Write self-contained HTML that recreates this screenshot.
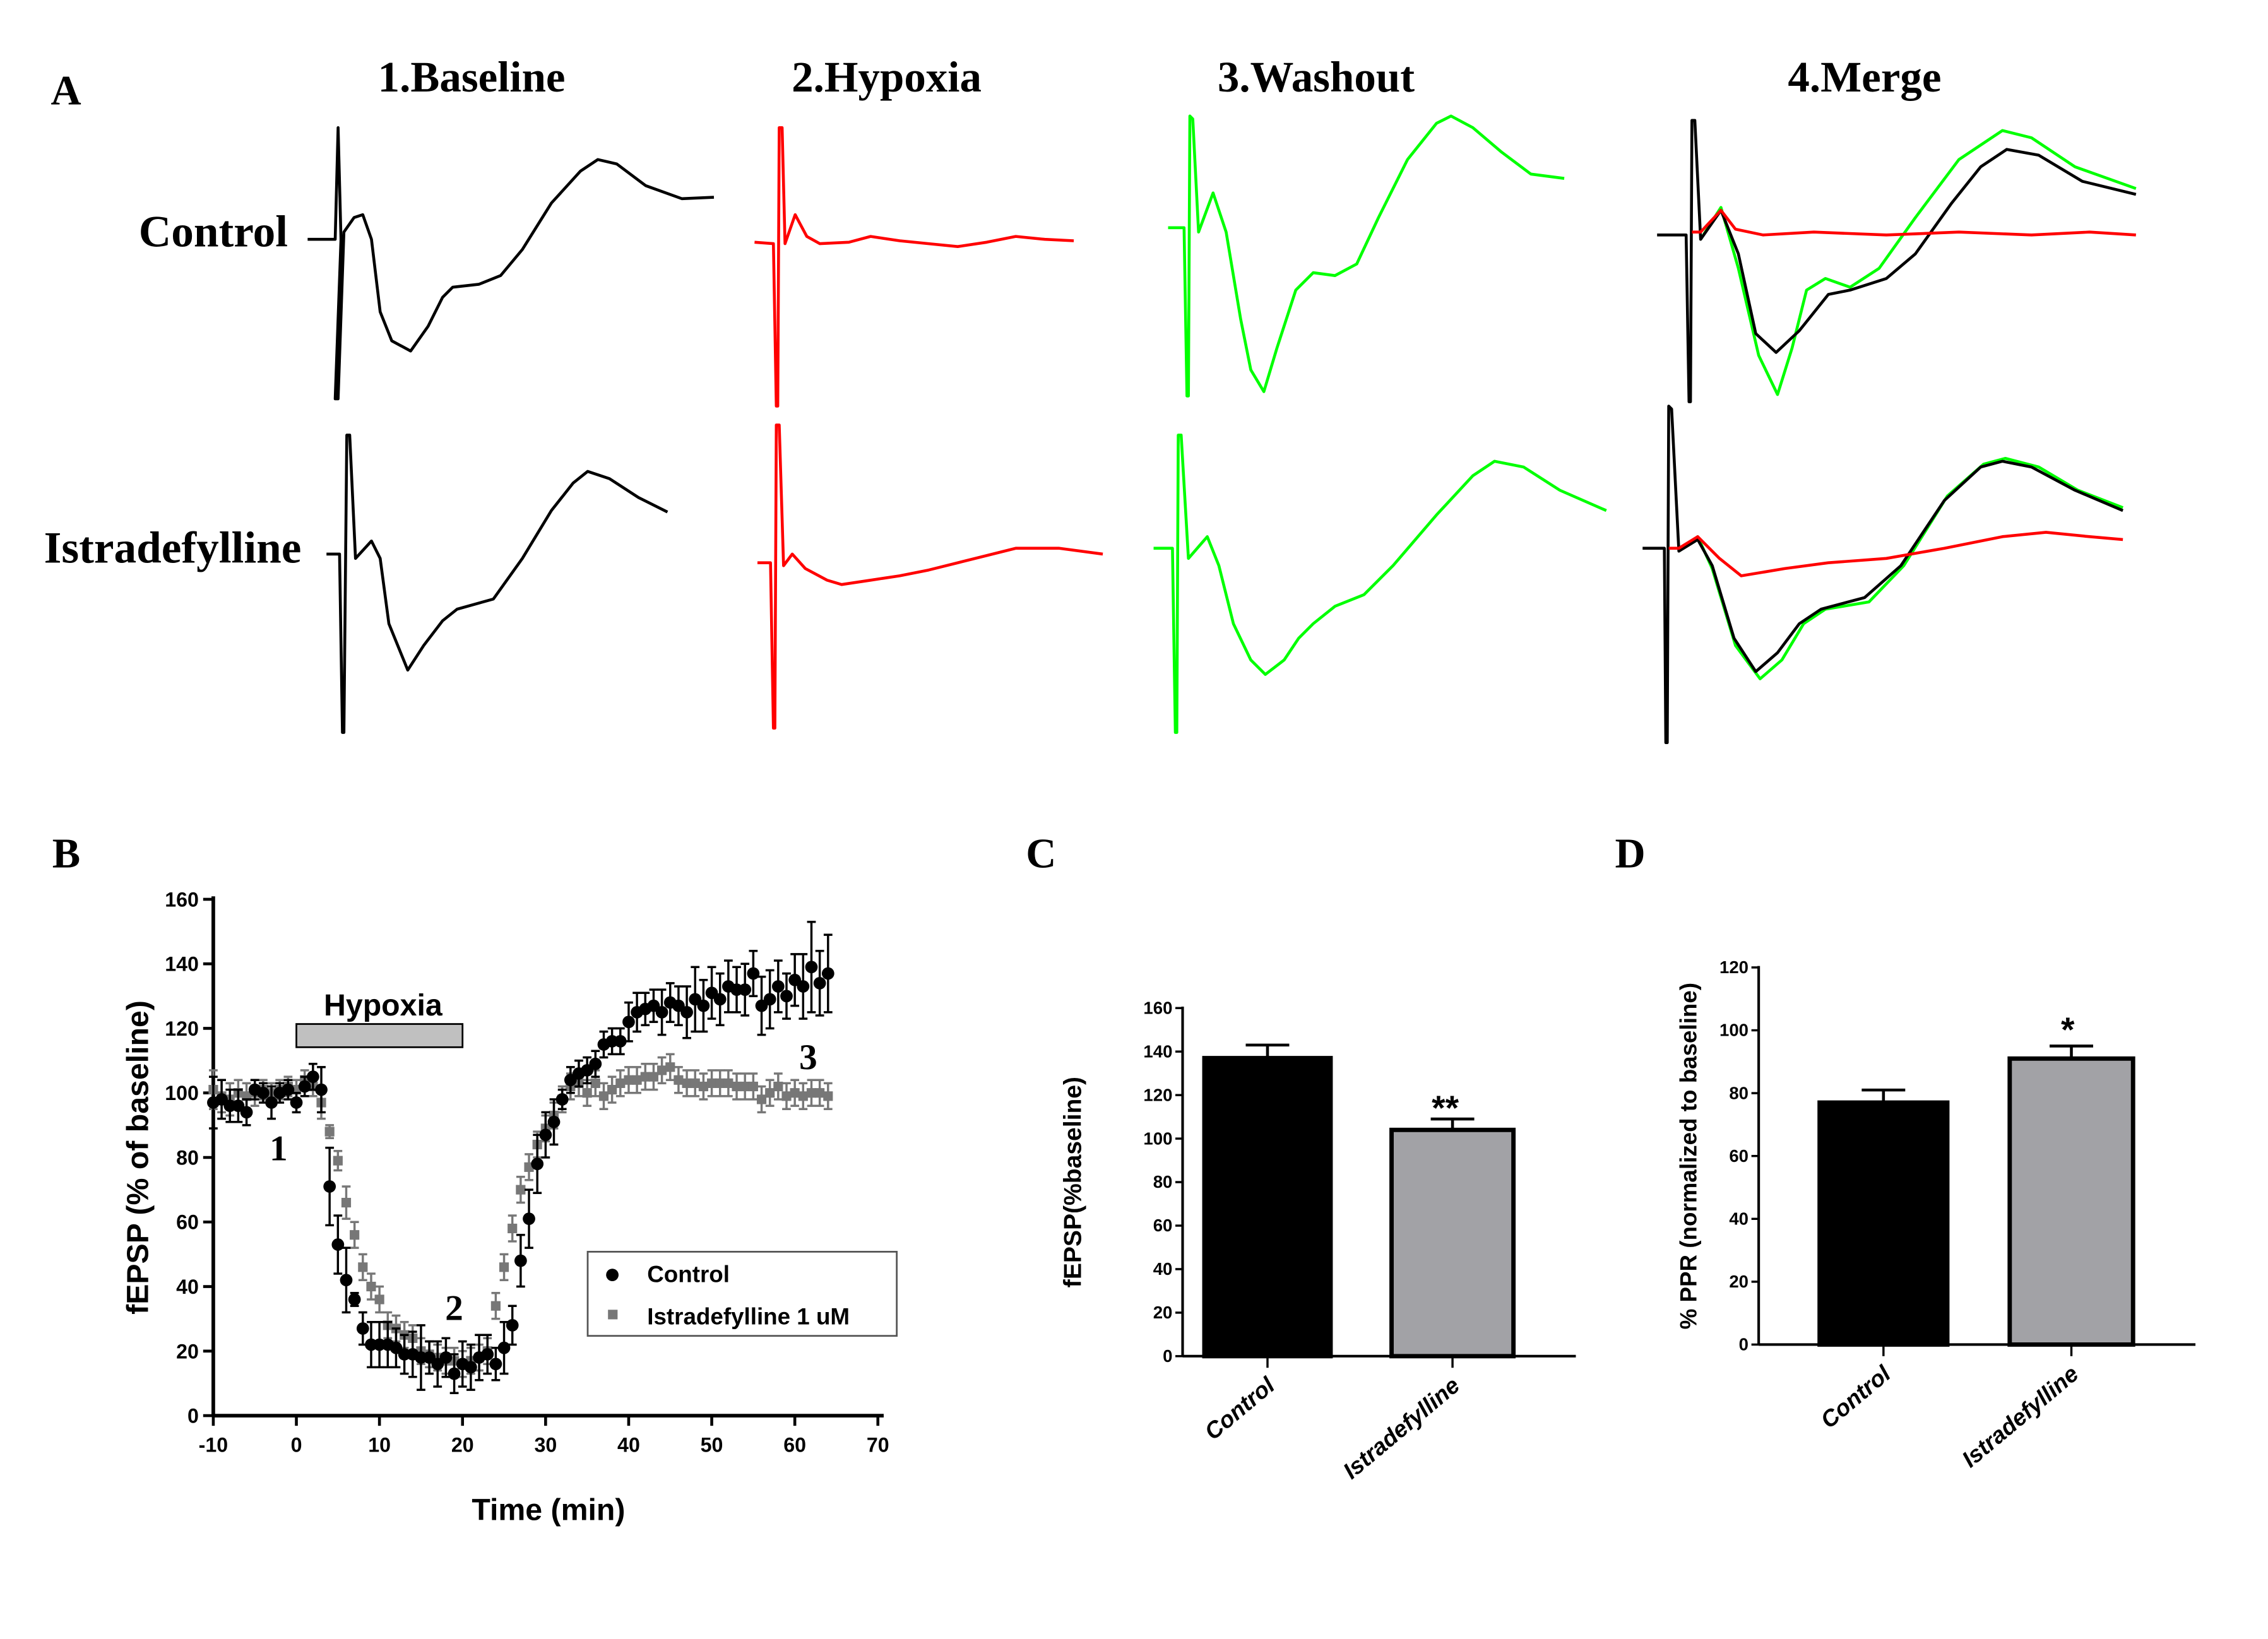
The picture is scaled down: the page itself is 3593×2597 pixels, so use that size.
<!DOCTYPE html>
<html><head><meta charset="utf-8"><style>
html,body{margin:0;padding:0;background:#fff;}
svg{display:block;}
.tk{font-family:"Liberation Sans",sans-serif;font-weight:bold;}
.sf{font-family:"Liberation Serif",serif;font-weight:bold;}
</style></head><body>
<svg id="fig" width="3593" height="2597" viewBox="0 0 1563 1130" preserveAspectRatio="none" xmlns="http://www.w3.org/2000/svg">
<rect width="1563" height="1130" fill="#fff"/>
<g class="sf" font-size="29">
<text x="35" y="72">A</text>
<text x="36" y="598">B</text>
<text x="707" y="598">C</text>
<text x="1113" y="598">D</text>
</g>
<g class="sf" font-size="30" text-anchor="middle">
<text x="325" y="63">1.Baseline</text>
<text x="611" y="63">2.Hypoxia</text>
<text x="907" y="63">3.Washout</text>
<text x="1285" y="63">4.Merge</text>
<text x="147" y="170" font-size="31">Control</text>
<text x="119" y="388" font-size="31">Istradefylline</text>
</g>
<g id="traces"></g>
<g id="panelB"></g>
<g id="panelC"></g>
<g id="panelD"></g>
</svg>
<script>
// ---- Panel A trace key points (x,y in figure units) ----
const trCtlBase=[[212,165],[228,165],[231,165],[233,88],[235,165],[231,275],[233,275],[237,160],[244,150],[250,148],[256,165],[262,215],[270,235],[283,242],[295,225],[305,205],[312,198],[330,196],[345,190],[360,172],[380,140],[400,118],[412,110],[425,113],[445,128],[470,137],[492,136]];
const trCtlHyp=[[520,167],[533,168],[535,280],[536,280],[537,88],[539,88],[541,168],[548,148],[556,163],[565,168],[585,167],[600,163],[620,166],[640,168],[660,170],[680,167],[700,163],[720,165],[740,166]];
const trCtlWash=[[805,157],[816,157],[818,273],[819,273],[820,80],[822,82],[826,160],[836,133],[845,160],[855,220],[862,255],[871,270],[880,240],[893,200],[905,188],[920,190],[935,182],[950,150],[970,110],[990,85],[1000,80],[1015,88],[1035,105],[1055,120],[1078,123]];
const trMrgCtlBlack=[[1142,162],[1162,162],[1164,277],[1165,277],[1166,83],[1168,83],[1172,165],[1186,145],[1198,175],[1210,230],[1224,243],[1240,228],[1260,203],[1275,200],[1300,192],[1320,175],[1345,140],[1365,115],[1383,103],[1405,107],[1435,125],[1472,134]];
const trMrgCtlGreen=[[1172,165],[1186,143],[1198,185],[1212,245],[1225,272],[1235,240],[1245,200],[1258,192],[1275,198],[1295,185],[1320,150],[1350,110],[1380,90],[1400,95],[1430,115],[1472,130]];
const trMrgCtlRed=[[1166,160],[1172,160],[1186,145],[1196,158],[1215,162],[1250,160],[1300,162],[1350,160],[1400,162],[1440,160],[1472,162]];
const trIstBase=[[225,382],[234,382],[236,505],[237,505],[239,300],[241,300],[245,385],[256,373],[262,385],[268,430],[281,462],[292,445],[305,428],[315,420],[340,413],[360,385],[380,352],[395,333],[405,325],[420,330],[440,343],[460,353]];
const trIstHyp=[[522,388],[531,388],[533,502],[534,502],[535,293],[537,293],[540,390],[546,382],[555,392],[570,400],[580,403],[600,400],[620,397],[640,393],[660,388],[680,383],[700,378],[730,378],[760,382]];
const trIstWash=[[795,378],[808,378],[810,505],[811,505],[812,300],[814,300],[819,385],[832,370],[840,390],[850,430],[862,455],[872,465],[885,455],[895,440],[905,430],[920,418],[940,410],[960,390],[990,355],[1015,328],[1030,318],[1050,322],[1075,338],[1107,352]];
const trMrgIstBlack=[[1132,378],[1147,378],[1148,512],[1149,512],[1150,280],[1152,282],[1157,380],[1170,372],[1180,390],[1195,440],[1210,463],[1225,450],[1240,430],[1255,420],[1285,412],[1310,390],[1340,345],[1365,322],[1380,318],[1400,322],[1430,338],[1463,352]];
const trMrgIstGreen=[[1157,380],[1170,370],[1180,392],[1196,445],[1213,468],[1228,455],[1243,430],[1258,420],[1288,415],[1312,390],[1342,342],[1367,320],[1382,316],[1405,322],[1432,338],[1463,350]];
const trMrgIstRed=[[1150,378],[1157,378],[1170,370],[1185,385],[1200,397],[1230,392],[1260,388],[1300,385],[1340,378],[1380,370],[1410,367],[1440,370],[1463,372]];

const NS="http://www.w3.org/2000/svg";
function mk(tag,attrs,parent){const e=document.createElementNS(NS,tag);for(const k in attrs)e.setAttribute(k,attrs[k]);parent.appendChild(e);return e;}
function txt(parent,x,y,s,size,extra){const t=mk('text',Object.assign({x:x,y:y,'font-size':size,class:'tk'},extra||{}),parent);t.textContent=s;return t;}

const tg=document.getElementById('traces');
const traceList=[[trCtlBase,'#000','trace-control-baseline'],[trCtlHyp,'#f00','trace-control-hypoxia'],[trCtlWash,'#0f0','trace-control-washout'],[trMrgCtlGreen,'#0f0','trace-merge-control-washout'],[trMrgCtlBlack,'#000','trace-merge-control-baseline'],[trMrgCtlRed,'#f00','trace-merge-control-hypoxia'],[trIstBase,'#000','trace-istradefylline-baseline'],[trIstHyp,'#f00','trace-istradefylline-hypoxia'],[trIstWash,'#0f0','trace-istradefylline-washout'],[trMrgIstGreen,'#0f0','trace-merge-istradefylline-washout'],[trMrgIstBlack,'#000','trace-merge-istradefylline-baseline'],[trMrgIstRed,'#f00','trace-merge-istradefylline-hypoxia']];
traceList.forEach(function(t){
  const p=mk('polyline',{points:t[0].map(function(q){return q.join(',');}).join(' '),fill:'none',stroke:t[1],'stroke-width':2,'stroke-linejoin':'round'},tg);
  
  
});

// ---- Panel B data ----
const timeMin=[-10,-9,-8,-7,-6,-5,-4,-3,-2,-1,0,1,2,3,4,5,6,7,8,9,10,11,12,13,14,15,16,17,18,19,20,21,22,23,24,25,26,27,28,29,30,31,32,33,34,35,36,37,38,39,40,41,42,43,44,45,46,47,48,49,50,51,52,53,54,55,56,57,58,59,60,61,62,63,64];
const controlVals=[97,98,96,96,94,101,100,97,100,101,97,102,105,101,71,53,42,36,27,22,22,22,21,19,19,18,18,16,18,13,16,15,18,19,16,21,28,48,61,78,87,91,98,104,106,107,109,115,116,116,122,125,126,127,125,128,127,125,129,127,131,129,133,132,132,137,127,129,133,130,135,133,139,134,137];
const controlErr=[8,6,5,5,4,3,3,5,3,3,3,3,4,7,12,9,10,2,5,7,7,7,6,6,7,10,5,7,6,6,7,7,7,6,5,8,6,8,9,9,7,7,3,4,4,4,4,4,4,4,6,6,5,5,7,6,6,8,10,8,8,8,8,7,8,7,9,9,8,7,8,10,14,10,12];
const istraVals=[101,99,98,100,99,100,101,100,101,102,101,104,102,97,88,79,66,56,46,40,36,28,27,25,24,20,19,18,17,17,16,17,18,20,34,46,58,70,77,84,89,93,98,102,103,100,103,99,101,103,104,104,105,105,107,108,104,103,103,102,103,103,103,102,102,102,98,100,102,99,100,99,100,100,99];
const istraErr=[6,5,5,4,4,4,3,3,3,3,3,3,3,5,2,3,5,4,4,4,4,4,4,4,4,4,4,4,4,4,4,4,4,4,4,4,4,4,4,4,4,4,4,4,4,4,4,4,4,4,4,4,4,4,4,4,4,4,4,4,4,4,4,4,4,4,4,4,4,4,4,4,4,4,4];
const bXTicks=[-10,0,10,20,30,40,50,60,70];
const bYTicks=[0,20,40,60,80,100,120,140,160];

const gB=document.getElementById('panelB');
const bx=function(v){return 147+(v+10)*(605-147)/80;};
const by=function(v){return 976-v*(976-620)/160;};
mk('line',{x1:147,y1:976,x2:609,y2:976,stroke:'#000','stroke-width':2.5},gB);
mk('line',{x1:147,y1:618,x2:147,y2:977,stroke:'#000','stroke-width':2.5},gB);
bXTicks.forEach(function(v){
  mk('line',{x1:bx(v),y1:976,x2:bx(v),y2:983,stroke:'#000','stroke-width':2},gB);
  const t=txt(gB,bx(v),1001,String(v),14,{'text-anchor':'middle'});
  
  
});
bYTicks.forEach(function(v){
  mk('line',{x1:140,y1:by(v),x2:147,y2:by(v),stroke:'#000','stroke-width':2},gB);
  const t=txt(gB,137,by(v)+5,String(v),14,{'text-anchor':'end'});
  
  
});
let tt=txt(gB,378,1048,'Time (min)',21,{'text-anchor':'middle'});

tt=txt(gB,0,0,'fEPSP (% of baseline)',21,{'text-anchor':'middle',transform:'translate(102,798) rotate(-90)'});

const hb=mk('rect',{x:bx(0),y:706,width:bx(20)-bx(0),height:16,fill:'#c0c0c0',stroke:'#000','stroke-width':1.2},gB);

tt=txt(gB,264,700,'Hypoxia',21,{'text-anchor':'middle'});

[['1',192,800],['2',313,910],['3',557,737]].forEach(function(a){
  const t=mk('text',{x:a[1],y:a[2],'font-size':25,class:'sf','text-anchor':'middle'},gB);t.textContent=a[0];
  
});
function series(vals,errs,color,isCircle,name){
  const g=mk('g',{},gB);
  
  
  for(let i=0;i<timeMin.length;i++){
    const x=bx(timeMin[i]),y=by(vals[i]),e=errs[i];
    mk('line',{x1:x,y1:by(vals[i]+e),x2:x,y2:by(vals[i]-e),stroke:color,'stroke-width':1.5},g);
    mk('line',{x1:x-3,y1:by(vals[i]+e),x2:x+3,y2:by(vals[i]+e),stroke:color,'stroke-width':1.5},g);
    mk('line',{x1:x-3,y1:by(vals[i]-e),x2:x+3,y2:by(vals[i]-e),stroke:color,'stroke-width':1.5},g);
    let m;
    if(isCircle){m=mk('circle',{cx:x,cy:y,r:4.3,fill:color},g);}
    else{m=mk('rect',{x:x-3.3,y:y-3.3,width:6.6,height:6.6,fill:color},g);}
    
    
  }
}
series(istraVals,istraErr,'#777',false,'istradefylline-series');
series(controlVals,controlErr,'#000',true,'control-series');
const lg=mk('g',{},gB);

mk('rect',{x:405,y:863,width:213,height:58,fill:'#fff',stroke:'#555','stroke-width':1.2},lg);
mk('circle',{cx:422,cy:879,r:4.3,fill:'#000'},lg);
mk('rect',{x:419,y:903,width:6.6,height:6.6,fill:'#777'},lg);
tt=txt(lg,446,884,'Control',16);
tt=txt(lg,446,913,'Istradefylline 1 uM',16);

// ---- Panels C and D ----
const barCats=['Control','Istradefylline'];
const cVals=[137,104];
const cErrs=[6,5];
const cTicks=[0,20,40,60,80,100,120,140,160];
const dVals=[77,91];
const dErrs=[4,4];
const dTicks=[0,20,40,60,80,100,120];

function barPanel(gid,cfg){
  const g=document.getElementById(gid);
  const y=function(v){return cfg.y0-v*(cfg.y0-cfg.yTop)/cfg.max;};
  cfg.vals.forEach(function(v,i){
    const x0=cfg.bars[i][0],x1=cfg.bars[i][1],xc=(x0+x1)/2;
    mk('line',{x1:xc,y1:y(v),x2:xc,y2:y(v+cfg.errs[i]),stroke:'#000','stroke-width':2},g);
    mk('line',{x1:xc-15,y1:y(v+cfg.errs[i]),x2:xc+15,y2:y(v+cfg.errs[i]),stroke:'#000','stroke-width':2},g);
    const r=mk('rect',{x:x0,y:y(v),width:x1-x0,height:cfg.y0-y(v),fill:i==0?'#000':'#a2a2a6',stroke:'#000','stroke-width':3},g);
    
    
    mk('line',{x1:xc,y1:cfg.y0,x2:xc,y2:cfg.y0+8,stroke:'#000','stroke-width':1.5},g);
    const t=txt(g,0,0,barCats[i],16,{'text-anchor':'end','font-style':'italic',transform:'translate('+(xc+6)+','+(cfg.y0+22)+') rotate(-40)'});
    
    
  });
  mk('line',{x1:cfg.ax,y1:cfg.y0,x2:cfg.axEnd,y2:cfg.y0,stroke:'#000','stroke-width':1.8},g);
  mk('line',{x1:cfg.ax,y1:cfg.yTop-1,x2:cfg.ax,y2:cfg.y0,stroke:'#000','stroke-width':1.8},g);
  cfg.ticks.forEach(function(v){
    mk('line',{x1:cfg.ax-5,y1:y(v),x2:cfg.ax,y2:y(v),stroke:'#000','stroke-width':1.5},g);
    const t=txt(g,cfg.ax-7,y(v)+4,String(v),12,{'text-anchor':'end'});
    
    
  });
  let t=txt(g,0,0,cfg.title,cfg.titleSize,{'text-anchor':'middle',transform:'translate('+cfg.tx+','+cfg.ty+') rotate(-90)'});
  
  t=txt(g,cfg.sx,cfg.sy,cfg.star,24,{'text-anchor':'middle'});
  
}
barPanel('panelC',{vals:cVals,errs:cErrs,ticks:cTicks,max:160,y0:935,yTop:695,ax:815,axEnd:1086,bars:[[830,917],[959,1043]],title:'fEPSP(%baseline)',titleSize:17,tx:745,ty:815,star:'**',sx:996,sy:772});
barPanel('panelD',{vals:dVals,errs:dErrs,ticks:dTicks,max:120,y0:927,yTop:667,ax:1212,axEnd:1513,bars:[[1254,1342],[1385,1470]],title:'% PPR (normalized to baseline)',titleSize:16,tx:1169,ty:797,star:'*',sx:1425,sy:718});
</script>
</body></html>
